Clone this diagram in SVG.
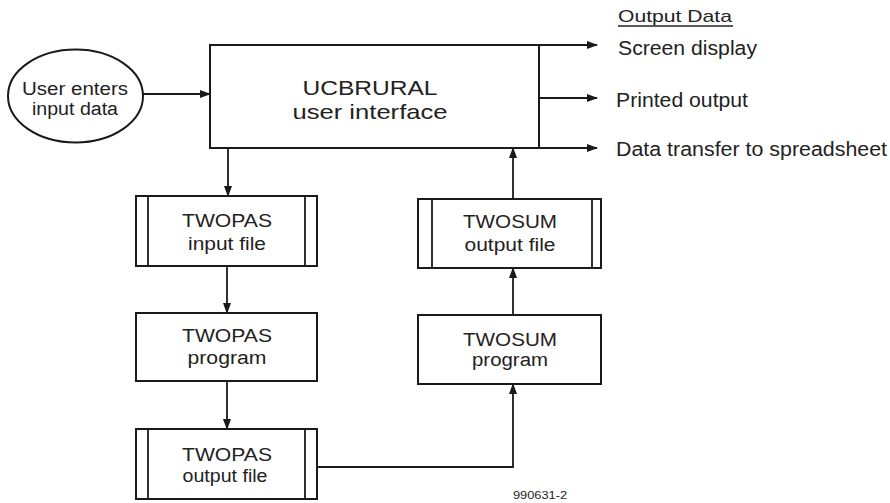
<svg xmlns="http://www.w3.org/2000/svg" width="890" height="503" viewBox="0 0 890 503">
<defs>
<marker id="ah" markerWidth="11" markerHeight="8" refX="10" refY="4" orient="auto" markerUnits="userSpaceOnUse">
<path d="M0,0 L11,4 L0,8 z" fill="#1a1a1a"/>
</marker>
<style>
.box{fill:#fff;stroke:#1a1a1a;stroke-width:2}
.ln{fill:none;stroke:#1a1a1a;stroke-width:1.8}
.arr{fill:none;stroke:#1a1a1a;stroke-width:1.8;marker-end:url(#ah)}
text{font-family:"Liberation Sans",Arial,sans-serif;fill:#222}
.c{text-anchor:middle}
.t{font-size:18px}
.big{font-size:21px}
.out{font-size:20px}
</style>
</defs>
<rect width="890" height="503" fill="#fff"/>

<g id="connectors">
<path class="arr" d="M143,94 H210"/>
<path class="arr" d="M228,148 V196"/>
<path class="arr" d="M227,266 V313"/>
<path class="arr" d="M227,381 V429"/>
<path class="arr" d="M317,467 H513 V384"/>
<path class="arr" d="M513,315 V268"/>
<path class="arr" d="M513,199 V148"/>
<path class="arr" d="M539,45 H597"/>
<path class="arr" d="M539,98 H597"/>
<path class="arr" d="M539,148 H597"/>
</g>

<g id="user-input">
<ellipse cx="75.5" cy="96" rx="67.5" ry="46.5" class="box"/>
<text x="75" y="95" class="c t" textLength="106" lengthAdjust="spacingAndGlyphs">User enters</text>
<text x="75" y="115" class="c t" textLength="86" lengthAdjust="spacingAndGlyphs">input data</text>
</g>

<g id="ucbrural">
<rect x="210" y="45" width="329" height="103" class="box"/>
<text x="370" y="95" class="c big" textLength="135" lengthAdjust="spacingAndGlyphs">UCBRURAL</text>
<text x="370" y="119" class="c big" textLength="155" lengthAdjust="spacingAndGlyphs">user interface</text>
</g>

<g id="twopas-input">
<rect x="136" y="196" width="181" height="70" class="box"/>
<path class="ln" d="M148,196 V266 M305,196 V266"/>
<text x="227" y="227" class="c t" textLength="90" lengthAdjust="spacingAndGlyphs">TWOPAS</text>
<text x="227" y="250" class="c t" textLength="78" lengthAdjust="spacingAndGlyphs">input file</text>
</g>

<g id="twopas-program">
<rect x="136" y="313" width="181" height="68" class="box"/>
<text x="227" y="342" class="c t" textLength="90" lengthAdjust="spacingAndGlyphs">TWOPAS</text>
<text x="227" y="364" class="c t" textLength="79" lengthAdjust="spacingAndGlyphs">program</text>
</g>

<g id="twopas-output">
<rect x="136" y="429" width="181" height="70" class="box"/>
<path class="ln" d="M148,429 V499 M305,429 V499"/>
<text x="227" y="461" class="c t" textLength="90" lengthAdjust="spacingAndGlyphs">TWOPAS</text>
<text x="225" y="482" class="c t" textLength="85" lengthAdjust="spacingAndGlyphs">output file</text>
</g>

<g id="twosum-program">
<rect x="418" y="315" width="183" height="69" class="box"/>
<text x="510" y="346" class="c t" textLength="94" lengthAdjust="spacingAndGlyphs">TWOSUM</text>
<text x="510" y="366" class="c t" textLength="76" lengthAdjust="spacingAndGlyphs">program</text>
</g>

<g id="twosum-output">
<rect x="418" y="199" width="183" height="69" class="box"/>
<path class="ln" d="M432,199 V268 M592,199 V268"/>
<text x="510" y="228" class="c t" textLength="94" lengthAdjust="spacingAndGlyphs">TWOSUM</text>
<text x="510" y="251" class="c t" textLength="91" lengthAdjust="spacingAndGlyphs">output file</text>
</g>

<g id="output-data">
<text x="618" y="22" font-size="17" textLength="114" lengthAdjust="spacingAndGlyphs">Output Data</text>
<line x1="618" y1="26" x2="733" y2="26" stroke="#222" stroke-width="1.5"/>
<text x="618" y="55" class="out" textLength="139" lengthAdjust="spacingAndGlyphs">Screen display</text>
<text x="616" y="107" class="out" textLength="132" lengthAdjust="spacingAndGlyphs">Printed output</text>
<text x="616" y="156" class="out" textLength="271" lengthAdjust="spacingAndGlyphs">Data transfer to spreadsheet</text>
</g>

<text x="513" y="499" font-size="10" textLength="54" lengthAdjust="spacingAndGlyphs">990631-2</text>
</svg>
